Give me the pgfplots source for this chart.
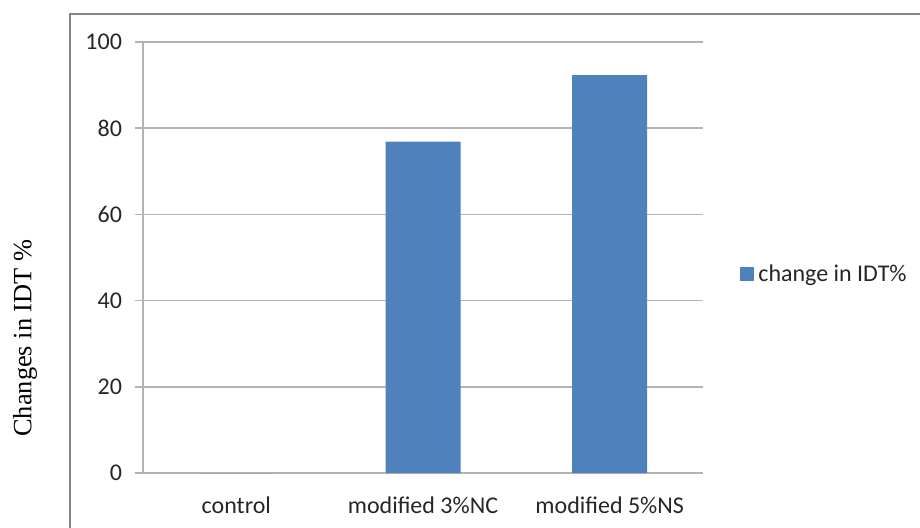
\documentclass[border=0pt]{standalone}
\usepackage{pgfplots}
\pgfplotsset{compat=1.18}
\usepackage{fontspec}
\setmainfont{Carlito}
\newfontfamily\timesfont{Liberation Serif}
\definecolor{barblue}{HTML}{4F81BD}
\definecolor{gridgray}{HTML}{B3B3B3}
\definecolor{framegray}{HTML}{868686}
\definecolor{txt}{HTML}{262626}
\begin{document}
\begin{tikzpicture}
\begin{axis}[
  at={(71.5pt,27pt)}, anchor=south west,
  scale only axis, width=280pt, height=215.5pt,
  xmin=-0.5, xmax=2.5, ymin=0, ymax=100,
  axis x line*=bottom, axis y line*=left,
  axis line style={draw=gridgray, line width=0.75pt, -},
  xtick={0,1,2},
  xticklabels={control, modified 3\%NC, modified 5\%NS},
  major x tick style={draw=none},
  extra x ticks={-0.5,0.5,1.5,2.5},
  extra x tick labels={},
  extra x tick style={grid=none, major tick length=4pt, tick style={draw=gridgray, line width=0.75pt}},
  ytick={0,20,40,60,80,100},
  ymajorgrids, grid style={draw=gridgray, line width=0.75pt},
  tick align=outside, major tick length=4pt,
  tick style={draw=gridgray, line width=0.75pt},
  /pgf/number format/assume math mode=true,
  tick label style={font=\fontsize{12}{14}\selectfont, text=txt},
  yticklabel style={xshift=-3pt},
  xticklabel style={yshift=-4.5pt},
  ylabel={\timesfont Changes in IDT \%},
  every axis y label/.style={at={(axis description cs:-0.2107,0.313)}, rotate=90, anchor=center, font=\fontsize{13.2}{15}\selectfont, text=black},
  legend style={at={(axis description cs:1.066,0.4606)}, anchor=west, draw=none, fill=none, inner sep=0pt, font=\fontsize{12}{14}\selectfont, text=txt, legend cell align=left},
  legend image code/.code={\fill[barblue] (0pt,-3.5pt) rectangle (7pt,3.5pt);},
]
\addplot[ybar, bar width=37.5pt, fill=barblue, draw=none] coordinates {(0,0) (1,76.9) (2,92.3)};
\addlegendentry{change in IDT\%}
\end{axis}
\draw[framegray, line width=1pt] (35pt,-10pt) -- (35pt,256.5pt) -- (470pt,256.5pt);
\pgfresetboundingbox
\useasboundingbox (0pt,0pt) rectangle (460pt,263.5pt);
\end{tikzpicture}
\end{document}
